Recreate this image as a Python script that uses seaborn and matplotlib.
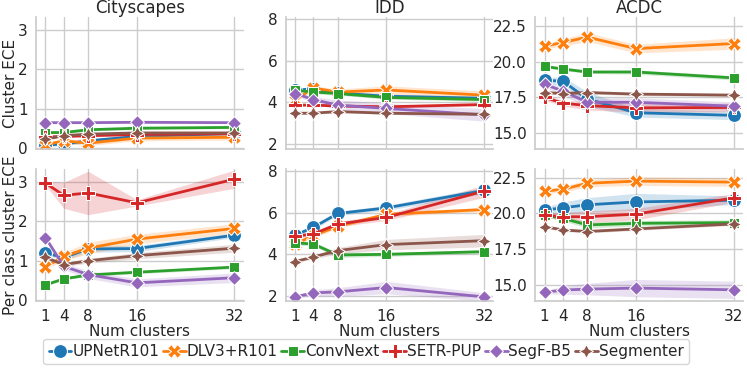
import matplotlib
matplotlib.use("Agg")
import matplotlib.pyplot as plt
import seaborn as sns
import pandas as pd

models = ["UPNetR101", "DLV3+R101", "ConvNext", "SETR-PUP", "SegF-B5", "Segmenter"]
num_clusters = [1, 4, 8, 16, 32]
datasets = ["Cityscapes", "IDD", "ACDC"]
metrics = ["Cluster ECE", "Per class cluster ECE"]

# mean values, one list per model (order of num_clusters)
cs_cluster = {
    "UPNetR101": [0.08, 0.11, 0.19, 0.30, 0.38],
    "DLV3+R101": [0.09, 0.19, 0.13, 0.26, 0.28],
    "ConvNext": [0.40, 0.40, 0.47, 0.51, 0.53],
    "SETR-PUP": [0.29, 0.30, 0.32, 0.35, 0.37],
    "SegF-B5": [0.65, 0.65, 0.65, 0.66, 0.65],
    "Segmenter": [0.23, 0.32, 0.36, 0.39, 0.39],
}
cs_perclass = {
    "UPNetR101": [1.20, 1.08, 1.30, 1.31, 1.65],
    "DLV3+R101": [0.84, 1.11, 1.32, 1.55, 1.82],
    "ConvNext": [0.39, 0.54, 0.64, 0.71, 0.84],
    "SETR-PUP": [2.97, 2.66, 2.72, 2.47, 3.07],
    "SegF-B5": [1.59, 0.86, 0.65, 0.44, 0.57],
    "Segmenter": [1.09, 0.90, 1.00, 1.13, 1.32],
}
idd_cluster = {
    "UPNetR101": [4.60, 4.65, 4.45, 4.30, 4.20],
    "DLV3+R101": [4.10, 4.70, 4.50, 4.60, 4.35],
    "ConvNext": [4.59, 4.50, 4.43, 4.24, 4.14],
    "SETR-PUP": [3.87, 3.87, 3.83, 3.79, 3.90],
    "SegF-B5": [4.43, 4.14, 3.87, 3.71, 3.40],
    "Segmenter": [3.48, 3.48, 3.56, 3.48, 3.43],
}
idd_perclass = {
    "UPNetR101": [4.92, 5.30, 5.97, 6.24, 7.08],
    "DLV3+R101": [4.50, 4.90, 5.35, 5.93, 6.16],
    "ConvNext": [4.55, 4.50, 3.97, 4.00, 4.13],
    "SETR-PUP": [4.87, 4.98, 5.46, 5.78, 7.05],
    "SegF-B5": [1.95, 2.14, 2.19, 2.40, 1.95],
    "Segmenter": [3.65, 3.87, 4.18, 4.47, 4.66],
}
acdc_cluster = {
    "UPNetR101": [18.68, 18.64, 17.39, 16.43, 16.25],
    "DLV3+R101": [21.07, 21.32, 21.70, 20.90, 21.25],
    "ConvNext": [19.66, 19.48, 19.27, 19.27, 18.86],
    "SETR-PUP": [17.50, 17.10, 16.93, 16.77, 16.80],
    "SegF-B5": [18.41, 17.95, 17.16, 17.16, 16.89],
    "Segmenter": [17.84, 17.77, 17.84, 17.73, 17.66],
}
acdc_perclass = {
    "UPNetR101": [20.23, 20.39, 20.60, 20.80, 20.92],
    "DLV3+R101": [21.56, 21.67, 22.10, 22.25, 22.18],
    "ConvNext": [19.89, 19.66, 19.20, 19.31, 19.36],
    "SETR-PUP": [19.89, 19.77, 19.77, 19.95, 21.08],
    "SegF-B5": [14.50, 14.66, 14.73, 14.80, 14.68],
    "Segmenter": [19.08, 18.85, 18.74, 18.92, 19.27],
}

# half width of the shaded bands
cs_cluster_err = {
    "UPNetR101": [0.04, 0.04, 0.05, 0.05, 0.05],
    "DLV3+R101": [0.05, 0.06, 0.06, 0.07, 0.07],
    "ConvNext": [0.03, 0.03, 0.03, 0.03, 0.03],
    "SETR-PUP": [0.03, 0.03, 0.03, 0.03, 0.03],
    "SegF-B5": [0.02, 0.02, 0.02, 0.02, 0.02],
    "Segmenter": [0.03, 0.03, 0.03, 0.03, 0.03],
}
cs_perclass_err = {
    "UPNetR101": [0.05, 0.07, 0.08, 0.08, 0.06],
    "DLV3+R101": [0.05, 0.10, 0.15, 0.12, 0.12],
    "ConvNext": [0.03, 0.03, 0.03, 0.04, 0.04],
    "SETR-PUP": [0.05, 0.33, 0.55, 0.08, 0.23],
    "SegF-B5": [0.04, 0.08, 0.10, 0.10, 0.12],
    "Segmenter": [0.04, 0.05, 0.06, 0.08, 0.10],
}
idd_cluster_err = {
    "UPNetR101": [0.08, 0.08, 0.08, 0.10, 0.10],
    "DLV3+R101": [0.10, 0.10, 0.15, 0.20, 0.20],
    "ConvNext": [0.08, 0.08, 0.08, 0.08, 0.08],
    "SETR-PUP": [0.05, 0.05, 0.05, 0.06, 0.06],
    "SegF-B5": [0.10, 0.15, 0.25, 0.25, 0.30],
    "Segmenter": [0.05, 0.05, 0.05, 0.05, 0.05],
}
idd_perclass_err = {
    "UPNetR101": [0.10, 0.10, 0.10, 0.12, 0.15],
    "DLV3+R101": [0.10, 0.10, 0.10, 0.10, 0.10],
    "ConvNext": [0.10, 0.10, 0.12, 0.10, 0.08],
    "SETR-PUP": [0.10, 0.10, 0.12, 0.15, 0.30],
    "SegF-B5": [0.05, 0.15, 0.20, 0.30, 0.20],
    "Segmenter": [0.05, 0.10, 0.15, 0.25, 0.30],
}
acdc_cluster_err = {
    "UPNetR101": [0.20, 0.30, 0.50, 0.30, 0.30],
    "DLV3+R101": [0.20, 0.25, 0.30, 0.30, 0.40],
    "ConvNext": [0.10, 0.10, 0.10, 0.15, 0.15],
    "SETR-PUP": [0.20, 0.20, 0.30, 0.30, 0.30],
    "SegF-B5": [0.20, 0.30, 0.30, 0.30, 0.30],
    "Segmenter": [0.10, 0.10, 0.10, 0.10, 0.10],
}
acdc_perclass_err = {
    "UPNetR101": [0.20, 0.40, 0.50, 0.60, 0.30],
    "DLV3+R101": [0.15, 0.20, 0.25, 0.30, 0.30],
    "ConvNext": [0.10, 0.20, 0.20, 0.20, 0.20],
    "SETR-PUP": [0.10, 0.30, 0.40, 0.40, 0.30],
    "SegF-B5": [0.10, 0.30, 0.40, 0.60, 0.60],
    "Segmenter": [0.10, 0.10, 0.10, 0.10, 0.10],
}

panels = [
    [(cs_cluster, cs_cluster_err), (idd_cluster, idd_cluster_err), (acdc_cluster, acdc_cluster_err)],
    [(cs_perclass, cs_perclass_err), (idd_perclass, idd_perclass_err), (acdc_perclass, acdc_perclass_err)],
]
ylims = [(-0.02, 3.33), (1.75, 8.12), (13.9, 23.1)]
yticks = [[0, 1, 2, 3], [2, 4, 6, 8], [15.0, 17.5, 20.0, 22.5]]

sns.set_theme(style="whitegrid")
plt.rcParams["font.family"] = ["DejaVu Sans"]
palette = sns.color_palette("tab10", len(models))

# no axis sharing: each panel gets its own limits, top row hides x tick labels
fig, axes = plt.subplots(2, 3, figsize=(7.47, 3.73), dpi=100)

for r in range(2):
    for c in range(3):
        ax = axes[r, c]
        vals, errs = panels[r][c]
        rows = []
        for m in models:
            for k, v in zip(num_clusters, vals[m]):
                rows.append({"model": m, "clusters": k, "value": v})
        df = pd.DataFrame(rows)
        sns.lineplot(data=df, x="clusters", y="value", hue="model", style="model",
                     hue_order=models, style_order=models, palette=palette,
                     markers=True, dashes=False, markersize=10, linewidth=2,
                     errorbar=None, ax=ax, legend=(r == 0 and c == 0))
        for i, m in enumerate(models):
            lo = [v - e for v, e in zip(vals[m], errs[m])]
            hi = [v + e for v, e in zip(vals[m], errs[m])]
            ax.fill_between(num_clusters, lo, hi, color=palette[i], alpha=0.2, linewidth=0)
        ax.set_xlim(-0.55, 33.55)
        ax.set_ylim(*ylims[c])
        ax.set_yticks(yticks[c])
        ax.set_xticks(num_clusters)
        ax.tick_params(labelsize=11, pad=0)
        if r == 0:
            ax.tick_params(labelbottom=False)
            ax.set_title(datasets[c], fontsize=12, pad=1.5)
        ax.set_xlabel("Num clusters" if r == 1 else "", fontsize=11, labelpad=0)
        ax.set_ylabel(metrics[r] if c == 0 else "", fontsize=11, labelpad=0)
        sns.despine(ax=ax)

handles, labels = axes[0, 0].get_legend_handles_labels()
axes[0, 0].get_legend().remove()
fig.legend(handles, labels, loc="center", bbox_to_anchor=(0.49, 0.058), ncol=6,
           fontsize=11, handlelength=1.5, handletextpad=0.05, columnspacing=0.25,
           borderpad=0.35, frameon=True, edgecolor="0.8")

fig.subplots_adjust(left=36 / 747, right=743 / 747, top=1 - 17 / 373, bottom=1 - 301 / 373,
                    wspace=0.2, hspace=0.15)
fig.savefig("out.png", dpi=100)
